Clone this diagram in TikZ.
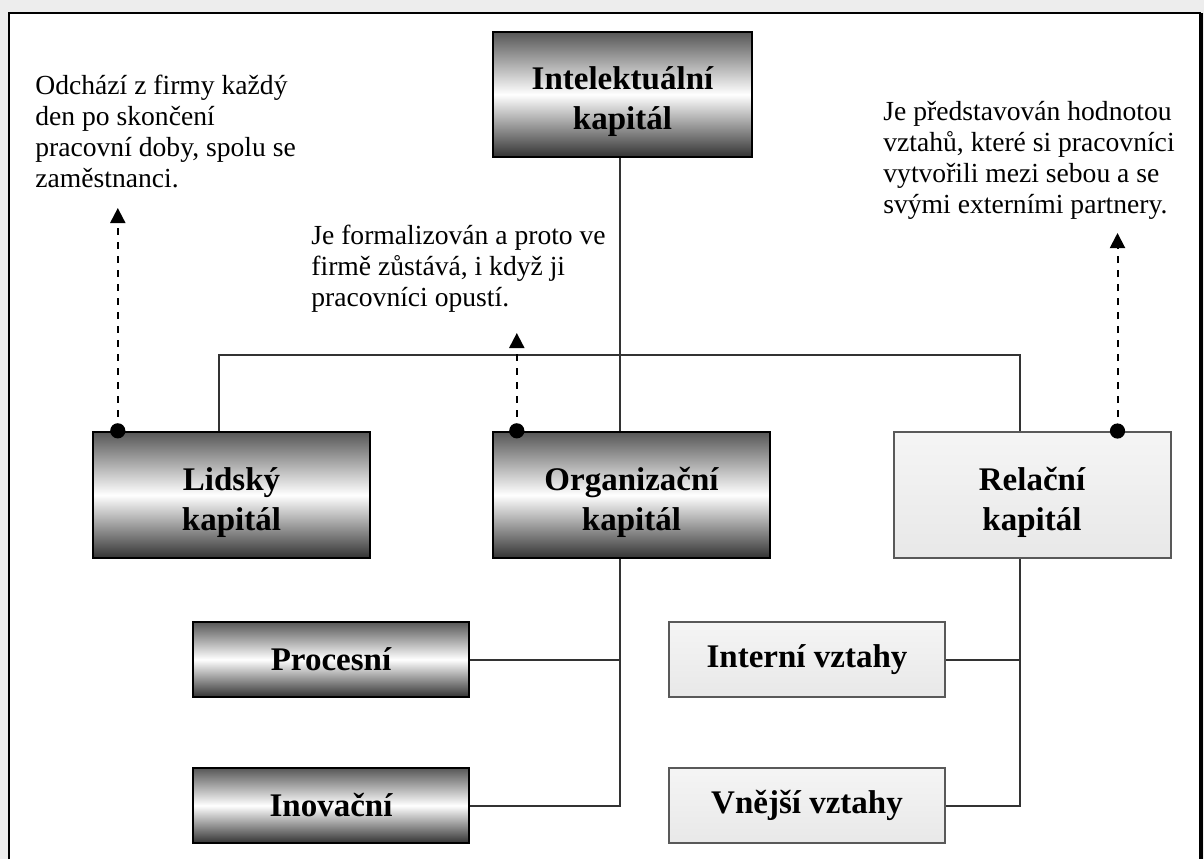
\documentclass[tikz,border=0pt]{standalone}
\usepackage{fontspec}
\setmainfont{Liberation Serif}
\usetikzlibrary{arrows.meta,calc}

% a tall first line keeps two-line labels a little below the box centre
\newcommand\firstrow{\rule{0pt}{18.5pt}}

\tikzset{
  lbl/.style={font=\fontsize{16.5}{20}\selectfont\bfseries, align=center, inner sep=0pt},
  darkbox/.style={lbl, draw=black, line width=1.2pt,
    top color=black!66, bottom color=black!80, middle color=white},
  lightbox/.style={lbl, draw=black!65, line width=1pt,
    top color=black!4, bottom color=black!9},
  bigbox/.style={minimum width=138.5pt, minimum height=63pt},
  smallbox/.style={minimum width=138pt, minimum height=37.5pt},
  note/.style={font=\fontsize{13.8}{15.5}\selectfont, align=left, inner sep=0pt, anchor=north west},
  link/.style={line width=1pt, draw=black!80},
  hint/.style={line width=1pt, dash pattern=on 3.5pt off 3.5pt,
    -{Triangle[length=7.5pt,width=7.5pt]}},
  knot/.style={fill=black}
}

\begin{document}
\begin{tikzpicture}[x=0.5pt,y=-0.5pt]
  \useasboundingbox (0,0) rectangle (1204,859);
  % page background and frame
  \fill[black!7] (0,0) rectangle (1204,859);
  \fill[white] (9,13) rectangle (1201,859);
  \draw[line width=1.1pt] (9,859) -- (9,13) -- (1201,13);
  \draw[line width=1.6pt] (1201,13) -- (1201,859);

  % boxes
  \node[darkbox, minimum width=129.5pt, minimum height=62.5pt] (intel) at (622.5,94.5) {\firstrow Intelektuální\\kapitál};
  \node[darkbox, bigbox] (lid) at (231.5,495) {\firstrow Lidský\\kapitál};
  \node[darkbox, bigbox] (org) at (631.5,495) {\firstrow Organizační\\kapitál};
  \node[lightbox, bigbox] (rel) at (1032,495) {\firstrow Relační\\kapitál};
  \node[darkbox, smallbox] (proc) at (331,659.5) {Procesní};
  \node[darkbox, smallbox] (inov) at (331,805.5) {Inovační};
  \node[lightbox, smallbox] (int) at (807,659.5) {Interní vztahy};
  \node[lightbox, smallbox] (vne) at (807,805.5) {Vnější vztahy};

  % junction points on the box edges
  \coordinate (bus) at (0,355);
  \coordinate (intelJ) at ($(intel.south)+(-2.5,0)$);
  \coordinate (lidJ) at ($(lid.north)+(-12.5,0)$);
  \coordinate (relJ) at ($(rel.north)+(-12,0)$);
  \coordinate (orgJ) at ($(org.south)+(-11.5,0)$);
  \coordinate (relS) at ($(rel.south)+(-12,0)$);

  % tree connectors
  \draw[link] (intelJ) -- (intelJ |- org.north);
  \draw[link] (lidJ) -- (lidJ |- bus) -- (relJ |- bus) -- (relJ);
  \draw[link] (orgJ) |- (inov.east);
  \draw[link] (proc.east) -- (proc.east -| orgJ);
  \draw[link] (relS) |- (vne.east);
  \draw[link] (int.east) -- (int.east -| relS);

  % annotations
  \node[note] (nLid) at (35,75) {Odchází z firmy každý\\den po skončení\\pracovní doby, spolu se\\zaměstnanci.};
  \node[note] (nOrg) at (311,225) {Je formalizován a proto ve\\firmě zůstává, i když ji\\pracovníci opustí.};
  \node[note] (nRel) at (883,101) {Je představován hodnotou\\vztahů, které si pracovníci\\vytvořili mezi sebou a se\\svými externími partnery.};

  % dashed pointers from the boxes towards their notes
  \coordinate (dLid) at ($(lid.north west)+(26,0)$);
  \coordinate (dOrg) at ($(org.north west)+(25,0)$);
  \coordinate (dRel) at ($(rel.north west)+(225,0)$);
  \coordinate (tLid) at (dLid |- 0,208);
  \coordinate (tOrg) at (dOrg |- 0,333);
  \coordinate (tRel) at (dRel |- 0,233);
  \draw[hint] (dLid) -- (tLid);
  \draw[hint] (dOrg) -- (tOrg);
  \draw[hint] (dRel) -- (tRel);
  \fill[knot] (dLid) circle[radius=3.8pt];
  \fill[knot] (dOrg) circle[radius=3.8pt];
  \fill[knot] (dRel) circle[radius=3.8pt];
\end{tikzpicture}
\end{document}
